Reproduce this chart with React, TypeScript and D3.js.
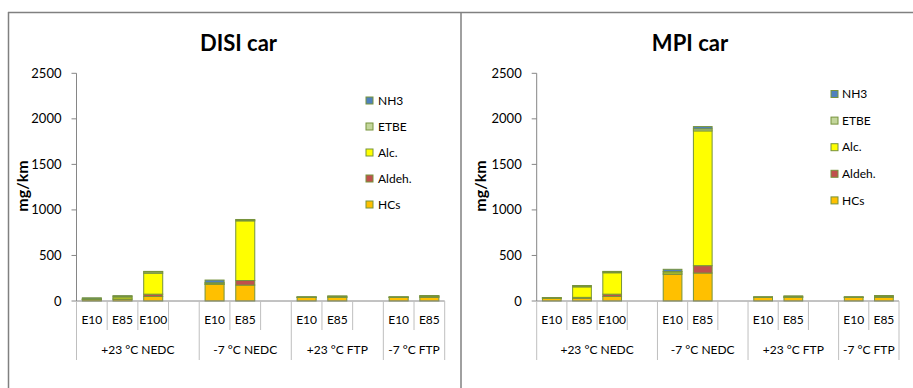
import React from "react";
import * as d3 from "d3";

const categories = ["E10", "E85", "E100", "", "E10", "E85", "", "E10", "E85", "", "E10", "E85"];
const groupLabels = ["+23 °C NEDC", "-7 °C NEDC", "+23 °C FTP", "-7 °C FTP"];
const groupSpans = [4, 3, 3, 2];
const yTicks = [0, 500, 1000, 1500, 2000, 2500];

const seriesKeys = ["HCs", "Aldeh", "Alc", "ETBE", "NH3"];
const seriesLabels = ["HCs", "Aldeh.", "Alc.", "ETBE", "NH3"];
const seriesColors = ["#FFC000", "#C0504D", "#FFFF00", "#C3D69B", "#4F81BD"];

// DISI car
const disiHCs = [15, 20, 50, 0, 183, 175, 0, 40, 40, 0, 40, 42];
const disiAldeh = [3, 3, 25, 0, 2, 50, 0, 1, 2, 0, 1, 2];
const disiAlc = [2, 20, 230, 0, 12, 655, 0, 1, 3, 0, 1, 3];
const disiETBE = [2, 10, 15, 0, 3, 10, 0, 1, 8, 0, 1, 10];
const disiNH3 = [13, 5, 5, 0, 30, 5, 0, 2, 2, 0, 2, 3];

// MPI car
const mpiHCs = [30, 30, 50, 0, 295, 307, 0, 40, 40, 0, 40, 42];
const mpiAldeh = [2, 10, 25, 0, 3, 81, 0, 1, 2, 0, 1, 2];
const mpiAlc = [2, 115, 235, 0, 20, 1480, 0, 1, 3, 0, 1, 3];
const mpiETBE = [1, 10, 10, 0, 5, 22, 0, 1, 8, 0, 1, 10];
const mpiNH3 = [2, 5, 5, 0, 25, 25, 0, 2, 2, 0, 2, 3];

const FONT = "Lato, 'Open Sans', sans-serif";
const AXIS = "#868686";
const SEP = "#BFBFBF";
const OUTLINE = "#77933C";

type PanelProps = {
  title: string;
  series: number[][];
  x0: number;
  x1: number;
  titleX: number;
  yTitleX: number;
  legSqX: number;
  legTextX: number;
  legY0: number;
  legStep: number;
};

function Panel(p: PanelProps) {
  const y = d3.scaleLinear().domain([0, 2500]).range([301, 73.3]);
  const x = d3
    .scaleBand<number>()
    .domain(categories.map((_, i) => i))
    .range([p.x0, p.x1])
    .paddingInner(0.38)
    .paddingOuter(0.19);
  const step = x.step();
  const rows = categories.map((_, i) => {
    const r: any = { i };
    seriesKeys.forEach((k, s) => (r[k] = p.series[s][i]));
    return r;
  });
  const stacked = d3.stack<any>().keys(seriesKeys)(rows);

  // group boundaries
  const bounds: number[] = [0];
  groupSpans.forEach((s) => bounds.push(bounds[bounds.length - 1] + s));
  const left = p.x0 - step * 0.19 + step * 0.19; // x.range start

  const boundaryX = (idx: number) => p.x0 + idx * step;

  return (
    <g>
      <text x={p.titleX} y={51} textAnchor="middle" fontFamily={FONT} fontWeight="bold" fontSize={22} fill="#000">
        {p.title}
      </text>
      <text
        transform={`translate(${p.yTitleX + 6},186) rotate(-90)`}
        textAnchor="middle"
        fontFamily={FONT}
        fontWeight="bold"
        fontSize={16}
        fill="#000"
      >
        mg/km
      </text>
      {/* y axis */}
      <line x1={p.x0} x2={p.x0} y1={y(2500)} y2={y(0)} stroke={AXIS} strokeWidth={1} />
      {yTicks.map((t) => (
        <g key={t}>
          <line x1={p.x0 - 5} x2={p.x0} y1={y(t)} y2={y(t)} stroke={AXIS} strokeWidth={1} />
          <text x={p.x0 - 15} y={y(t)} dy="0.35em" textAnchor="end" fontFamily={FONT} fontSize={13} fill="#000">
            {t}
          </text>
        </g>
      ))}
      {/* bars */}
      {stacked.map((layer, s) =>
        layer.map((d, i) => {
          const h = y(d[0]) - y(d[1]);
          if (h <= 0) return null;
          return (
            <rect
              key={`${s}-${i}`}
              x={x(i)!}
              y={y(d[1])}
              width={x.bandwidth()}
              height={h}
              fill={seriesColors[s]}
              stroke={OUTLINE}
              strokeWidth={1}
            />
          );
        })
      )}
      {/* x axis */}
      <line x1={p.x0} x2={p.x1} y1={y(0)} y2={y(0)} stroke={AXIS} strokeWidth={1} />
      {d3.range(categories.length + 1).map((b) => {
        const isGroup = bounds.includes(b);
        return (
          <line
            key={b}
            x1={boundaryX(b)}
            x2={boundaryX(b)}
            y1={y(0)}
            y2={isGroup ? 360 : 330}
            stroke={isGroup ? SEP : SEP}
            strokeWidth={1}
          />
        );
      })}
      {categories.map((c, i) => (
        <text
          key={i}
          x={x(i)! + x.bandwidth() / 2}
          y={320}
          dy="0.35em"
          textAnchor="middle"
          fontFamily={FONT}
          fontSize={12}
          fill="#000"
        >
          {c}
        </text>
      ))}
      {groupLabels.map((g, gi) => (
        <text
          key={g}
          x={(boundaryX(bounds[gi]) + boundaryX(bounds[gi + 1])) / 2}
          y={350}
          dy="0.35em"
          textAnchor="middle"
          fontFamily={FONT}
          fontSize={12}
          fill="#000"
        >
          {g}
        </text>
      ))}
      {/* legend, top to bottom reversed order */}
      {seriesKeys
        .map((_, s) => s)
        .reverse()
        .map((s, r) => {
          const cy = p.legY0 + r * p.legStep;
          return (
            <g key={s}>
              <rect x={p.legSqX} y={cy - 3.5} width={7} height={7} fill={seriesColors[s]} stroke={OUTLINE} strokeWidth={1} />
              <text x={p.legTextX} y={cy} dy="0.35em" fontFamily={FONT} fontSize={12} fill="#000">
                {seriesLabels[s]}
              </text>
            </g>
          );
        })}
    </g>
  );
}

export default function App() {
  return (
    <svg
      width={913}
      height={388}
      style={{ position: "absolute", left: 0, top: 0, background: "#fff" }}
    >
      <rect x={0} y={0} width={913} height={388} fill="#fff" />
      <Panel
        title="DISI car"
        series={[disiHCs, disiAldeh, disiAlc, disiETBE, disiNH3]}
        x0={76.5}
        x1={444.7}
        titleX={238.5}
        yTitleX={22}
        legSqX={366}
        legTextX={378}
        legY0={100.5}
        legStep={26}
      />
      <Panel
        title="MPI car"
        series={[mpiHCs, mpiAldeh, mpiAlc, mpiETBE, mpiNH3]}
        x0={536.7}
        x1={899}
        titleX={690}
        yTitleX={480}
        legSqX={831}
        legTextX={842}
        legY0={94}
        legStep={26.6}
      />
      {/* frame */}
      <line x1={8} x2={913} y1={12.5} y2={12.5} stroke="#808080" strokeWidth={1.5} />
      <line x1={8.5} x2={8.5} y1={12} y2={388} stroke="#808080" strokeWidth={1.5} />
      <line x1={461} x2={461} y1={12} y2={388} stroke="#808080" strokeWidth={1.5} />
    </svg>
  );
}
